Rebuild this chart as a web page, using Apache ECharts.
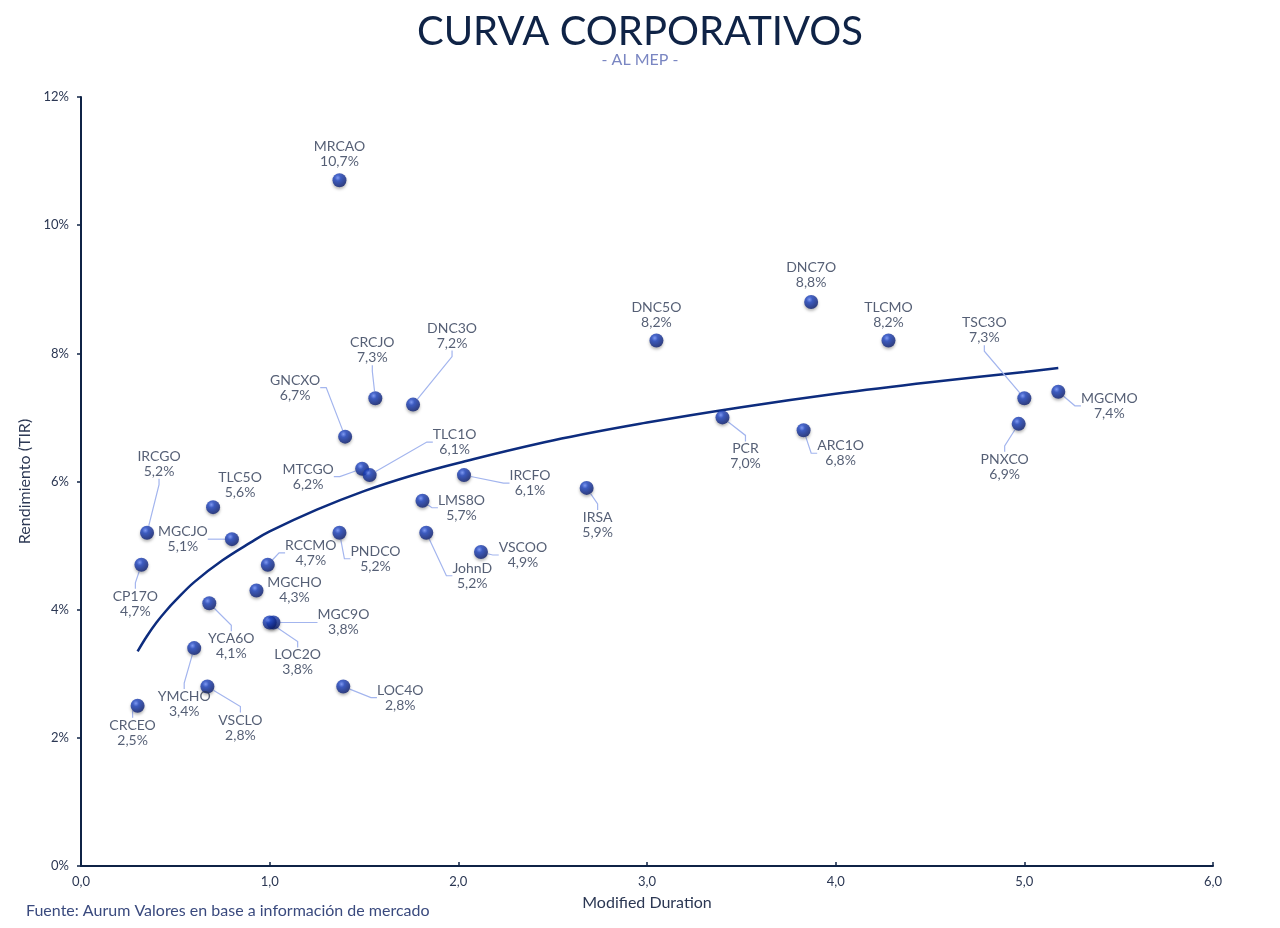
<!DOCTYPE html>
<html>
<head>
<meta charset="utf-8">
<script src="https://cdn.jsdelivr.net/npm/echarts@6/dist/echarts.min.js"></script>
<style>
html,body{margin:0;padding:0;background:#fff;}
#chart{width:1280px;height:928px;}
</style>
</head>
<body>
<div id="chart"></div>
<script>
// ---- Data ----
const names = ['MRCAO','CRCJO','DNC3O','GNCXO','MTCGO','TLC1O','IRCGO','TLC5O','MGCJO','CP17O',
  'RCCMO','MGCHO','YCA6O','MGC9O','LOC2O','YMCHO','VSCLO','CRCEO','LOC4O','PNDCO',
  'JohnD','LMS8O','IRCFO','VSCOO','IRSA','DNC5O','DNC7O','TLCMO','PCR','ARC1O',
  'TSC3O','PNXCO','MGCMO'];
const durations = [1.37,1.56,1.76,1.40,1.49,1.53,0.35,0.70,0.80,0.32,
  0.99,0.93,0.68,1.02,1.00,0.60,0.67,0.30,1.39,1.37,
  1.83,1.81,2.03,2.12,2.68,3.05,3.87,4.28,3.40,3.83,
  5.00,4.97,5.18];
const yields = [10.7,7.3,7.2,6.7,6.2,6.1,5.2,5.6,5.1,4.7,
  4.7,4.3,4.1,3.8,3.8,3.4,2.8,2.5,2.8,5.2,
  5.2,5.7,6.1,4.9,5.9,8.2,8.8,8.2,7.0,6.8,
  7.3,6.9,7.4];
// trend curve
const trendX = [0.30,0.35,0.40,0.45,0.50,0.60,0.75,0.90,1.0,1.25,1.5,1.75,2.0,2.5,3.0,3.5,4.0,4.5,5.0,5.18];
const trendY = [3.35,3.59,3.80,3.98,4.14,4.43,4.77,5.05,5.22,5.56,5.85,6.09,6.29,6.64,6.92,7.16,7.37,7.55,7.71,7.77];
const xTicks = [0,1,2,3,4,5,6];
const yTicks = [0,2,4,6,8,10,12];

// ---- Label placement (layout only, pixel offsets of label centre from point) ----
const labelOffsets = {
  MRCAO:[0,-26], CRCJO:[-3,-48], DNC3O:[39,-69], GNCXO:[-50,-49], MTCGO:[-54,8],
  TLC1O:[85,-33], IRCGO:[12,-69], TLC5O:[27,-22], MGCJO:[-49,0], CP17O:[-6,39],
  RCCMO:[43,-12], MGCHO:[38,0], YCA6O:[22,43], MGC9O:[70,0], LOC2O:[28,40],
  YMCHO:[-10,56], VSCLO:[33,41], CRCEO:[-5,27], LOC4O:[57,11], PNDCO:[36,26],
  JohnD:[46,43], LMS8O:[39,7], IRCFO:[66,8], VSCOO:[42,3], IRSA:[11,37],
  DNC5O:[0,-26], DNC7O:[0,-27], TLCMO:[0,-26], PCR:[23,39], ARC1O:[37,23],
  TSC3O:[-40,-68], PNXCO:[-14,43], MGCMO:[51,14]
};
const noLine = ['MRCAO','DNC5O','DNC7O','TLCMO','TLC5O','MGCHO'];

const fmt1 = v => v.toFixed(1).replace('.', ',');
const FONT = 'Lato';
const NAVY = '#0f2346';
const TEXT = '#2b3753';

const scatterData = names.map((n, i) => ({
  name: n,
  value: [durations[i], yields[i]],
  labelLine: { show: noLine.indexOf(n) < 0 }
}));
const trendData = trendX.map((x, i) => [x, trendY[i]]);

const chart = echarts.init(document.getElementById('chart'), null, {renderer: 'canvas'});
chart.setOption({
  backgroundColor: '#ffffff',
  animation: false,
  textStyle: { fontFamily: FONT },
  title: [{
    text: 'CURVA CORPORATIVOS',
    subtext: '- AL MEP -',
    left: 'center',
    top: 7,
    itemGap: 0,
    textStyle: { fontFamily: FONT, fontSize: 40, fontWeight: 'normal', color: NAVY },
    subtextStyle: { fontFamily: FONT, fontSize: 16, color: '#7a86c2' }
  }, {
    text: 'Fuente: Aurum Valores en base a información de mercado',
    left: 21,
    top: 898,
    textStyle: { fontFamily: FONT, fontSize: 16, fontWeight: 'normal', color: '#3a4a7e' }
  }],
  grid: { left: 81, right: 67, top: 97, bottom: 62, containLabel: false },
  xAxis: {
    type: 'value', min: 0, max: 6, interval: 1,
    name: 'Modified Duration', nameLocation: 'middle', nameGap: 29,
    nameTextStyle: { fontFamily: FONT, fontSize: 16, color: TEXT },
    axisLine: { show: true, lineStyle: { color: NAVY, width: 2 } },
    axisTick: { show: true, inside: true, length: 4, lineStyle: { color: NAVY, width: 1.5 } },
    splitLine: { show: false },
    axisLabel: { fontFamily: FONT, fontSize: 13, color: TEXT, margin: 9,
      formatter: v => xTicks.indexOf(v) >= 0 ? fmt1(v) : '' }
  },
  yAxis: {
    type: 'value', min: 0, max: 12, interval: 2,
    name: 'Rendimiento (TIR)', nameLocation: 'middle', nameGap: 36, nameRotate: 90,
    nameTextStyle: { fontFamily: FONT, fontSize: 16, color: TEXT },
    axisLine: { show: true, lineStyle: { color: NAVY, width: 2 } },
    axisTick: { show: true, inside: false, length: 4, lineStyle: { color: NAVY, width: 1.5 } },
    splitLine: { show: false },
    axisLabel: { fontFamily: FONT, fontSize: 13, color: TEXT, margin: 12,
      formatter: v => yTicks.indexOf(v) >= 0 ? v + '%' : '' }
  },
  series: [{
    type: 'line',
    data: trendData,
    smooth: 0.4,
    showSymbol: false,
    silent: true,
    z: 1,
    lineStyle: { color: '#0d2c7e', width: 2.5 }
  }, {
    type: 'scatter',
    data: scatterData,
    symbolSize: 14,
    z: 3,
    itemStyle: {
      color: {
        type: 'radial', x: 0.38, y: 0.33, r: 0.72,
        colorStops: [
          { offset: 0, color: '#6f90ff' },
          { offset: 0.3, color: '#1d43c0' },
          { offset: 1, color: '#0a1a66' }
        ]
      },
      shadowBlur: 3, shadowColor: 'rgba(0,0,0,0.35)', shadowOffsetY: 2
    },
    label: {
      show: true,
      position: 'inside',
      align: 'center',
      verticalAlign: 'middle',
      fontFamily: FONT,
      fontSize: 14,
      lineHeight: 15,
      color: TEXT,
      formatter: p => p.name + '\n' + fmt1(p.value[1]) + '%'
    },
    labelLine: { show: true, length2: 6, lineStyle: { color: '#a3b5ee', width: 1.2 } },
    labelLayout: function (params) {
      const o = labelOffsets[names[params.dataIndex]] || [0, -26];
      return { dx: o[0], dy: o[1] };
    },
    emphasis: { disabled: true }
  }]
});
</script>
</body>
</html>
